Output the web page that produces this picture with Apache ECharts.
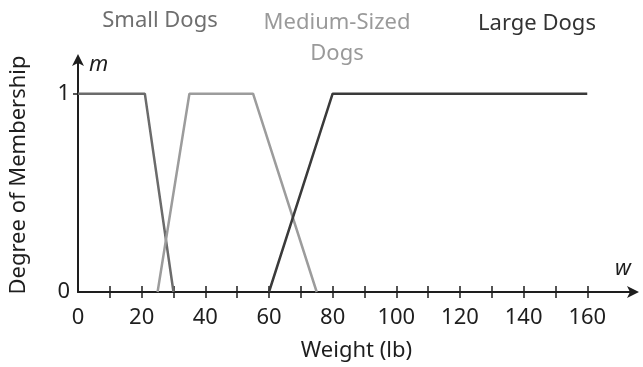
<!DOCTYPE html>
<html><head><meta charset="utf-8">
<script src="https://cdn.jsdelivr.net/npm/echarts@6/dist/echarts.min.js"></script>
<style>html,body{margin:0;padding:0;background:#fff}#c{width:643px;height:367px}</style>
</head><body><div id="c"></div>
<script>
const smallX = [0, 21, 30];
const smallY = [1, 1, 0];
const mediumX = [25, 35, 55, 75];
const mediumY = [0, 1, 1, 0];
const largeX = [60, 80, 160];
const largeY = [0, 1, 1];
const xTickValues = [10,20,30,40,50,60,70,80,90,100,110,120,130,140,150,160];
const xLabelValues = [0,20,40,60,80,100,120,140,160];
const yLabelValues = [0,1];
const seriesNames = ['Small Dogs', 'Medium-Sized Dogs', 'Large Dogs'];

const pairs = (xs, ys) => xs.map((x, i) => [x, ys[i]]);
const F = 'Noto Sans';
const chart = echarts.init(document.getElementById('c'), null, {renderer: 'canvas'});
const axisLineStyle = {color: '#1e1e1e', width: 2};
chart.setOption({
  animation: false,
  grid: {left: 78, right: 8, top: 58, bottom: 73},
  xAxis: [{
    type: 'value', min: 0, max: 175,
    name: 'Weight (lb)', nameLocation: 'middle', nameGap: 48,
    nameTextStyle: {fontFamily: F, fontSize: 22, color: '#1e1e1e'},
    axisLine: {show: true, lineStyle: axisLineStyle, symbol: ['none', 'arrow'], symbolSize: [9, 12], symbolOffset: [0, 4]},
    axisTick: {show: true, length: 6, lineStyle: {color: '#1e1e1e', width: 1.5}, customValues: xTickValues},
    axisLabel: {fontFamily: F, fontSize: 22, color: '#1e1e1e', margin: 15, customValues: xLabelValues},
    splitLine: {show: false}
  }, {
    type: 'value', min: 0, max: 175, position: 'bottom',
    axisLine: {show: false},
    axisTick: {show: true, inside: true, length: 6, lineStyle: {color: '#1e1e1e', width: 1.5}, customValues: xTickValues},
    axisLabel: {show: false},
    splitLine: {show: false}
  }],
  yAxis: [{
    type: 'value', min: 0, max: 1.18,
    name: 'Degree of Membership', nameLocation: 'middle', nameGap: 48, nameRotate: 90,
    nameTextStyle: {fontFamily: F, fontSize: 22, color: '#1e1e1e'},
    axisLine: {show: true, lineStyle: axisLineStyle, symbol: ['none', 'arrow'], symbolSize: [9, 12], symbolOffset: [0, 4]},
    axisTick: {show: true, length: 5, lineStyle: {color: '#1e1e1e', width: 1.5}, customValues: [1]},
    axisLabel: {fontFamily: F, fontSize: 22, color: '#1e1e1e', margin: 8, customValues: yLabelValues},
    splitLine: {show: false}
  }],
  series: [
    {name: seriesNames[0], type: 'line', data: pairs(smallX, smallY), symbol: 'none', lineStyle: {color: '#6b6b6b', width: 2.5}},
    {name: seriesNames[1], type: 'line', data: pairs(mediumX, mediumY), symbol: 'none', lineStyle: {color: '#9c9c9c', width: 2.5}},
    {name: seriesNames[2], type: 'line', data: pairs(largeX, largeY), symbol: 'none', lineStyle: {color: '#3a3a3a', width: 2.5}}
  ],
  graphic: [
    {type: 'text', x: 160, y: 10, style: {text: 'Small Dogs', font: '22px "Noto Sans"', fill: '#6f6f6f', align: 'center'}},
    {type: 'text', x: 337, y: 7, style: {text: 'Medium-Sized\nDogs', font: '22px "Noto Sans"', fill: '#9a9a9a', align: 'center', lineHeight: 31}},
    {type: 'text', x: 537, y: 13, style: {text: 'Large Dogs', font: '22px "Noto Sans"', fill: '#333', align: 'center'}},
    {type: 'text', x: 89, y: 54, style: {text: 'm', font: 'italic 22px "Noto Sans"', fill: '#1e1e1e'}},
    {type: 'text', x: 615, y: 258, style: {text: 'w', font: 'italic 22px "Noto Sans"', fill: '#1e1e1e'}}
  ]
});
</script></body></html>
